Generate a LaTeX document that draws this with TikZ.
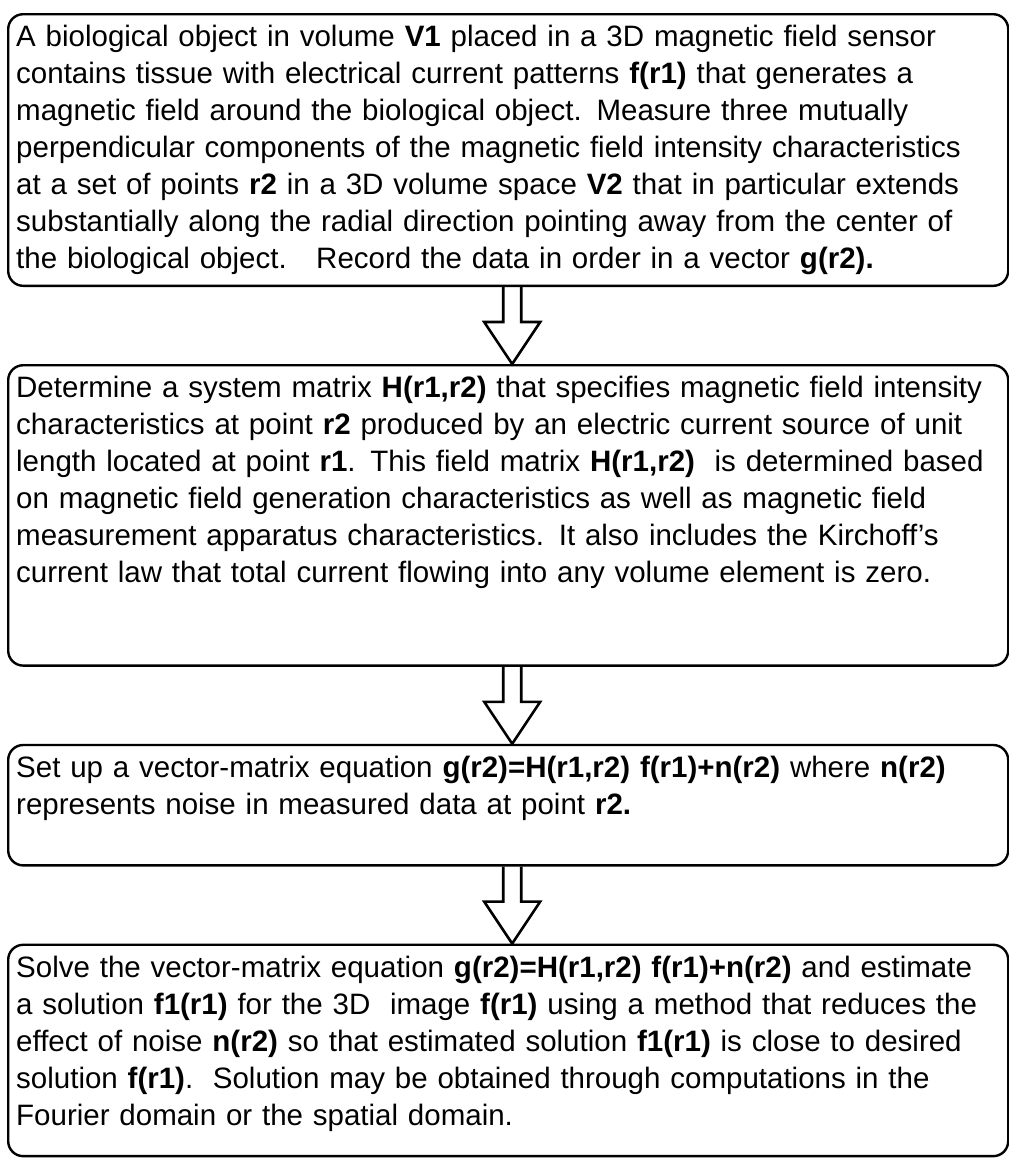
\documentclass[tikz,border=0pt]{standalone}
\usepackage{fontspec}
\setmainfont{Liberation Sans}
\usetikzlibrary{positioning,calc}
\newcommand{\tailgap}[1]{\rule[-#1]{0pt}{#1}}
\tikzset{
  stepbox/.style={draw,line width=2.4pt,rounded corners=15pt,minimum width=1000pt,
    text width=984pt,align=left,inner xsep=8pt,inner ysep=11pt,
    font=\fontsize{29.5}{37}\selectfont},
  hollow/.style={line width=2.6pt,line join=miter}
}
\begin{document}
\begin{tikzpicture}[x=1pt,y=1pt]
\useasboundingbox (0,0) rectangle (1009,-1165);
% 四个步骤框
\node[stepbox,anchor=north west] (meas) at (7,-13) {A biological object in volume \textbf{V1} placed in a 3D magnetic field sensor\\
contains tissue with electrical current patterns \textbf{f(r1)} that generates a\\
magnetic field around the biological object. Measure three mutually\\
perpendicular components of the magnetic field intensity characteristics\\
at a set of points \textbf{r2} in a 3D volume space \textbf{V2} that in particular extends\\
substantially along the radial direction pointing away from the center of\\
the biological object.\ \ \ Record the data in order in a vector \textbf{g(r2).}};
\node[stepbox,below=77pt of meas] (sysm) {Determine a system matrix \textbf{H(r1,r2)} that specifies magnetic field intensity\\
characteristics at point \textbf{r2} produced by an electric current source of unit\\
length located at point \textbf{r1}. This field matrix \textbf{H(r1,r2)}\ \ is determined based\\
on magnetic field generation characteristics as well as magnetic field\\
measurement apparatus characteristics. It also includes the Kirchoff's\\
current law that total current flowing into any volume element is zero.\tailgap{72pt}};
\node[stepbox,below=77pt of sysm] (equ) {Set up a vector-matrix equation \textbf{g(r2)=H(r1,r2) f(r1)+n(r2)} where \textbf{n(r2)}\\
represents noise in measured data at point \textbf{r2.}\tailgap{40pt}};
\node[stepbox,below=77pt of equ] (solv) {Solve the vector-matrix equation \textbf{g(r2)=H(r1,r2) f(r1)+n(r2)} and estimate\\
a solution \textbf{f1(r1)} for the 3D\ \ image \textbf{f(r1)} using a method that reduces the\\
effect of noise \textbf{n(r2)} so that estimated solution \textbf{f1(r1)} is close to desired\\
solution \textbf{f(r1)}.\ \ Solution may be obtained through computations in the\\
Fourier domain or the spatial domain.\tailgap{20pt}};
% 空心箭头
\foreach \s/\t in {meas/sysm,sysm/equ,equ/solv}{
  \draw[hollow] ($(\s.south)+(-5,0)$) -- ($(\t.north)+(-5,42)$)
    -- ($(\t.north)+(-24,42)$) -- ($(\t.north)+(4,0)$)
    -- ($(\t.north)+(32,42)$) -- ($(\t.north)+(13,42)$) -- ($(\s.south)+(13,0)$);
}
\end{tikzpicture}
\end{document}
